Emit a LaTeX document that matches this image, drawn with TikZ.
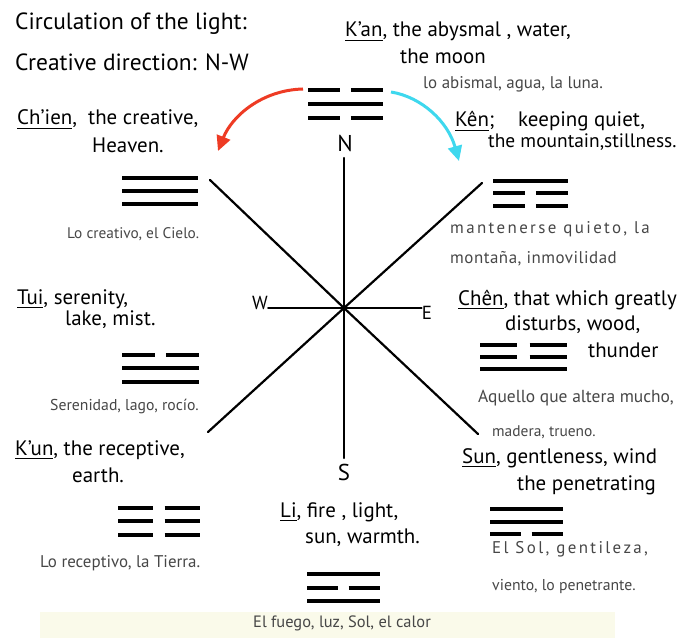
\documentclass[tikz,border=0pt]{standalone}
\usepackage{fontspec}
\setmainfont{PT Sans}
\usetikzlibrary{arrows.meta}
\definecolor{redarr}{HTML}{EE3B24}
\definecolor{cyanarr}{HTML}{3ED8EE}
\definecolor{esgray}{HTML}{474747}
\definecolor{bandcol}{HTML}{FAFAEA}
\newcommand\nameul[1]{\setbox0\hbox{#1}\rlap{\raisebox{-4.5pt}{\rule{\wd0}{1.7pt}}}\box0}
\newcommand\trigline[4]{%
  \ifnum#4=1
    \draw[triline] (#1,#2) -- ++(#3,0);
  \else
    \draw[triline] (#1,#2) -- ++({0.43*#3},0);
    \draw[triline] ({#1+0.57*#3},#2) -- ++({0.43*#3},0);
  \fi}
\newcommand\trigram[8]{%
  \trigline{#1}{#3}{#2}{#6}%
  \trigline{#1}{#4}{#2}{#7}%
  \trigline{#1}{#5}{#2}{#8}}
\tikzset{
  lbl/.style={anchor=base west, inner sep=0pt, font=\fontsize{21}{21}\selectfont},
  es/.style={anchor=base west, inner sep=0pt, text=esgray, font=\fontsize{15.5}{15.5}\selectfont},
  dirlbl/.style={inner sep=0pt, font=\fontsize{19}{19}\selectfont},
  compass/.style={line width=2.2bp, line cap=round},
  triline/.style={line width=3.5bp},
}
\begin{document}
\begin{tikzpicture}[x=1bp,y=-1bp]
\useasboundingbox (0,0) rectangle (681,638);
\fill[white] (0,0) rectangle (681,638);
\fill[bandcol] (40,612) rectangle (615,638);

% titles
\node[lbl, font=\fontsize{23.5}{23.5}\selectfont] (t1) at (15,30) {Circulation of the light:};
\node[lbl, font=\fontsize{23.5}{23.5}\selectfont] (t2) at (15,71) {Creative direction: N-W};

% compass
\coordinate (C) at (344,308);
\coordinate (Ntop) at (344,158);
\coordinate (Sbot) at (344,458);
\coordinate (NWend) at (210,180);
\coordinate (SEend) at (478,434);
\coordinate (NEend) at (482,183);
\coordinate (SWend) at (208,432);
\node[dirlbl, font=\fontsize{23}{23}\selectfont] (N) at (345,143) {N};
\node[dirlbl, font=\fontsize{23}{23}\selectfont] (S) at (344,472) {S};
\node[dirlbl] (W) at (260,303) {W};
\node[dirlbl] (E) at (427,313) {E};
\draw[compass] (Ntop) -- (C) -- (Sbot);
\draw[compass] (NWend) -- (C) -- (SEend);
\draw[compass] (NEend) -- (C) -- (SWend);
\draw[compass, line width=1.8bp] (W.east |- C) -- (C) -- (E.west |- C);

% K'an (north)
\node[lbl] (kan1) at (345,37) {\nameul{K'an} , the abysmal , water,};
\node[lbl] (kan2) at (400,64) {the moon};
\node[es, font=\fontsize{17}{17}\selectfont] (kanes) at (423,89) {lo abismal, agua, la luna.};
\trigram{308}{75}{90}{104}{118}{0}{1}{0}

% arrows
\coordinate (redstart) at (303,89);
\coordinate (redend) at (218,151);
\draw[redarr, line width=3bp, -{Triangle[length=15bp,width=14bp]}] (redstart) .. controls (262,90) and (232,116) .. (redend);
\coordinate (cyanstart) at (391,92);
\coordinate (cyanend) at (459,161);
\draw[cyanarr, line width=3bp, -{Triangle[length=15bp,width=14bp]}] (cyanstart) .. controls (422,97) and (448,122) .. (cyanend);

% Ch'ien
\node[lbl] (chien1) at (17,125) {\nameul{Ch'ien}, \ the creative,};
\node[lbl] (chien2) at (92,153) {Heaven.};
\trigram{122}{76}{178}{191}{204}{1}{1}{1}
\node[es, font=\fontsize{15.4}{15.4}\selectfont] (chienes) at (67,238) {Lo creativo, el Cielo.};

% Ken
\node[lbl] (ken1) at (455,127) {\nameul{Kên} ;};
\node[lbl] (ken1b) at (518,127) {keeping quiet,};
\node[lbl, font=\fontsize{19.5}{19.5}\selectfont] (ken2) at (488,148) {the mountain,stillness.};
\trigram{493}{75}{181}{193}{206}{1}{0}{0}
\node[es, font=\fontsize{17}{17}\selectfont\addfontfeature{LetterSpace=14}] (kenes1) at (450,233) {mantenerse quieto, la};
\node[es, font=\fontsize{17}{17}\selectfont\addfontfeature{LetterSpace=3}] (kenes2) at (450,263) {montaña, inmovilidad};

% Tui
\node[lbl] (tui1) at (17,304) {\nameul{Tui}, serenity,};
\node[lbl] (tui2) at (65,325) {lake, mist.};
\trigram{122}{77}{355}{368}{382}{0}{1}{1}
\node[es, font=\fontsize{15.8}{15.8}\selectfont] (tuies) at (50,410) {Serenidad, lago, rocío.};

% Chen
\node[lbl] (chen1) at (458,305) {\nameul{Chên}, that which greatly};
\node[lbl] (chen2) at (505,330) {disturbs, wood,};
\node[lbl] (chen3) at (588,357) {thunder};
\trigram{480}{87}{345}{357}{369}{0}{0}{1}
\node[es, font=\fontsize{17.5}{17.5}\selectfont] (chenes1) at (478,402) {Aquello que altera mucho,};
\node[es, font=\fontsize{15.5}{15.5}\selectfont] (chenes2) at (492,436) {madera, trueno.};

% K'un
\node[lbl] (kun1) at (15,455) {\nameul{K'un}, the receptive,};
\node[lbl] (kun2) at (72,482) {earth.};
\trigram{118}{82}{508}{521}{535}{0}{0}{0}
\node[es, font=\fontsize{17}{17}\selectfont] (kunes) at (40,567) {Lo receptivo, la Tierra.};

% Li
\node[lbl] (li1) at (280,517) {\nameul{Li}, fire , light,};
\node[lbl] (li2) at (305,543) {sun, warmth.};
\trigram{307}{73}{574}{588}{601}{1}{0}{1}
\node[es, font=\fontsize{16.5}{16.5}\selectfont] (lies) at (253,627) {El fuego, luz, Sol, el calor};

% Sun
\node[lbl] (sun1) at (462,463) {\nameul{Sun}, gentleness, wind};
\node[lbl] (sun2) at (517,490) {the penetrating};
\trigram{490}{73}{509}{522}{534}{1}{1}{0}
\node[es, font=\fontsize{17}{17}\selectfont\addfontfeature{LetterSpace=14}] (sunes1) at (492,553) {El Sol, gentileza,};
\node[es, font=\fontsize{15.8}{15.8}\selectfont] (sunes2) at (492,590) {viento, lo penetrante.};
\end{tikzpicture}
\end{document}
